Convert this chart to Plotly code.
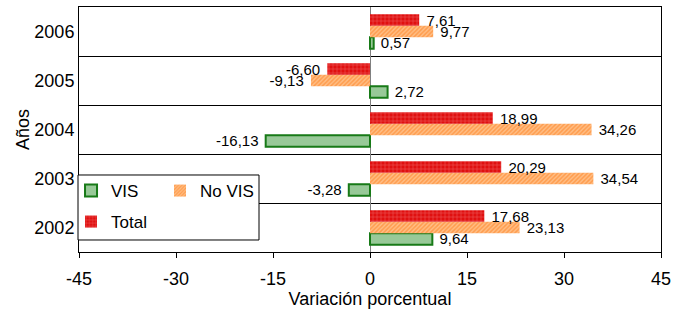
import plotly.graph_objects as go

years = ["2002", "2003", "2004", "2005", "2006"]
vis = [9.64, -3.28, -16.13, 2.72, 0.57]
no_vis = [23.13, 34.54, 34.26, -9.13, 9.77]
total = [17.68, 20.29, 18.99, -6.60, 7.61]

x_ticks = [-45, -30, -15, 0, 15, 30, 45]

FONT = "Arial, Liberation Sans, sans-serif"
NB = "\u00a0"


def labels(vals):
    out = []
    for v in vals:
        s = f"{v:.2f}".replace(".", ",")
        out.append(NB + s if v >= 0 else s + NB)
    return out


label_font = dict(family=FONT, size=15, color="black")
axis_font = dict(family=FONT, size=18, color="black")

fig = go.Figure()
fig.add_trace(go.Bar(
    y=years, x=vis, orientation="h", name="VIS", legend="legend",
    marker=dict(color="#98c998", line=dict(color="#177a17", width=2)),
    text=labels(vis), textposition="outside", constraintext="none",
    textfont=label_font, cliponaxis=False,
))
fig.add_trace(go.Bar(
    y=years, x=no_vis, orientation="h", name="No VIS", legend="legend2",
    marker=dict(color="#ffa95a", line=dict(width=0),
                pattern=dict(shape="/", bgcolor="#ffbe85", fgcolor="#ff7a14",
                             size=3, solidity=0.5)),
    text=labels(no_vis), textposition="outside", constraintext="none",
    textfont=label_font, cliponaxis=False,
))
fig.add_trace(go.Bar(
    y=years, x=total, orientation="h", name="Total", legend="legend3",
    marker=dict(color="#e01818", line=dict(width=0),
                pattern=dict(shape="+", bgcolor="#e01010", fgcolor="#f58a8a",
                             size=4, solidity=0.3)),
    text=labels(total), textposition="outside", constraintext="none",
    textfont=label_font, cliponaxis=False,
))

legend_common = dict(bgcolor="rgba(0,0,0,0)", borderwidth=0,
                     font=dict(family=FONT, size=17, color="black"),
                     xanchor="left", yanchor="top", itemclick=False)

fig.update_layout(
    width=673, height=310,
    margin=dict(l=79, r=12, t=7, b=58, autoexpand=False),
    paper_bgcolor="white", plot_bgcolor="white",
    barmode="group", bargap=0.3, bargroupgap=0,
    font=dict(family=FONT, size=17, color="black"),
    showlegend=True,
    legend=dict(x=-0.0137, y=0.3224, **legend_common),
    legend2=dict(x=0.1392, y=0.3224, **legend_common),
    legend3=dict(x=-0.0137, y=0.1959, **legend_common),
    xaxis=dict(
        range=[-45, 45], tickvals=x_ticks, ticktext=[str(t) for t in x_ticks],
        ticks="outside", ticklen=5, tickcolor="black", tickwidth=1,
        showgrid=False, showline=True, mirror=True, linecolor="black", linewidth=1,
        zeroline=True, zerolinecolor="#808080", zerolinewidth=1,
        ticklabelstandoff=5, automargin=False,
        tickfont=axis_font,
        title=dict(text="Variación porcentual", standoff=0, font=axis_font),
        fixedrange=True,
    ),
    yaxis=dict(
        type="category", categoryorder="array", categoryarray=years,
        tickson="boundaries", ticks="", showgrid=True, gridcolor="black", gridwidth=1,
        showline=True, mirror=True, linecolor="black", linewidth=1,
        ticklabelstandoff=0, automargin=False,
        tickfont=axis_font,
        title=dict(text="Años", standoff=0, font=axis_font),
        fixedrange=True,
    ),
    shapes=[dict(type="rect", xref="paper", yref="paper",
                 x0=-0.0017, x1=0.3093, y0=0.049, y1=0.3143,
                 fillcolor="white", line=dict(color="black", width=1),
                 layer="above")],
)

fig.write_html("out.html", config={"displayModeBar": False},
               post_script="document.body.style.margin='0';document.body.style.padding='0';")
